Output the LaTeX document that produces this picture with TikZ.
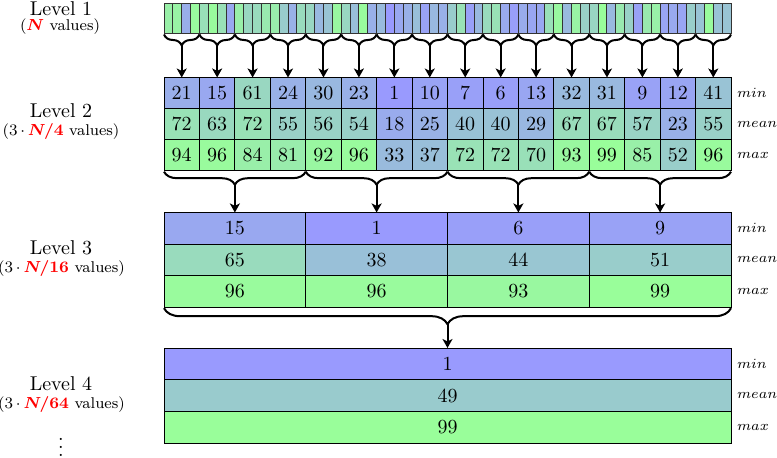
\documentclass[tikz,border=0pt]{standalone}
\usetikzlibrary{decorations.pathreplacing,arrows.meta,calc}
\definecolor{lo}{RGB}{153,153,255}
\definecolor{hi}{RGB}{153,255,153}
\begin{document}
\begin{tikzpicture}[x=0.5pt,y=-0.5pt,
  every node/.style={inner sep=0pt, outer sep=0pt},
  cellA/.style={draw=black!80, line width=0.5pt, anchor=north west, minimum width=4.4297pt, minimum height=15pt},
  cellB/.style={draw=black, line width=0.4pt, anchor=north west, minimum width=17.71875pt, minimum height=15.5pt},
  cellC/.style={draw=black, line width=0.4pt, anchor=north west, minimum width=70.875pt, minimum height=15.75pt},
  cellD/.style={draw=black, line width=0.4pt, anchor=north west, minimum width=283.5pt, minimum height=15.83pt},
  rowlab/.style={anchor=west, font=\fontsize{7.4}{9}\selectfont},
  lvl/.style={font=\normalsize},
  sublvl/.style={font=\fontsize{7.8}{9.5}\selectfont},
  bracedeco/.style={decorate, line width=1pt, decoration={brace, mirror, amplitude=#1, raise=0.6pt}},
  arr/.style={line width=1pt, -{Stealth[length=4.5pt,width=5pt,inset=1.2pt]}}
]
\useasboundingbox (0,0) rectangle (777,458);

% Level 1
\foreach \v [count=\j] in {85,88,21,94, 70,96,71,15, 84,61,65,78, 81,50,24,65,
                           60,30,42,92, 60,37,96,23, 33,1,15,23, 37,10,30,23,
                           50,72,7,31, 65,72,17,6, 19,13,14,70, 93,32,88,55,
                           60,99,31,78, 55,9,79,85, 12,16,12,52, 41,96,41,42}{
  \node[cellA, fill=hi!\v!lo] (a\j) at ({164+(\j-1)*8.859375}, 3.3) {};
}

% Level 2
\foreach \mn/\me/\mx [count=\i] in {21/72/94, 15/63/96, 61/72/84, 24/55/81,
                                   30/56/92, 23/54/96, 1/18/33, 10/25/37,
                                   7/40/72, 6/40/72, 13/29/70, 32/67/93,
                                   31/67/99, 9/57/85, 12/23/52, 41/55/96}{
  \node[cellB, fill=hi!\mn!lo] (bmin\i) at ({164+(\i-1)*35.4375}, 77.5) {\mn};
  \node[cellB, fill=hi!\me!lo] (bmean\i) at ({164+(\i-1)*35.4375}, 108.5) {\me};
  \node[cellB, fill=hi!\mx!lo] (bmax\i) at ({164+(\i-1)*35.4375}, 139.5) {\mx};
}

% Level 3
\foreach \mn/\me/\mx [count=\i] in {15/65/96, 1/38/96, 6/44/93, 9/51/99}{
  \node[cellC, fill=hi!\mn!lo] (cmin\i) at ({164+(\i-1)*141.75}, 212.5) {\mn};
  \node[cellC, fill=hi!\me!lo] (cmean\i) at ({164+(\i-1)*141.75}, 244) {\me};
  \node[cellC, fill=hi!\mx!lo] (cmax\i) at ({164+(\i-1)*141.75}, 275.5) {\mx};
}

% Level 4
\node[cellD, fill=hi!1!lo] (dmin) at (164, 348) {1};
\node[cellD, fill=hi!49!lo] (dmean) at (164, 379.7) {49};
\node[cellD, fill=hi!99!lo] (dmax) at (164, 411.4) {99};

% Braces level 1 -> level 2
\foreach \i in {1,...,16}{
  \pgfmathtruncatemacro\s{4*\i-3}
  \pgfmathtruncatemacro\e{4*\i}
  \draw[bracedeco=5.5pt] (a\s.south west) -- (a\e.south east);
  \coordinate (ta\i) at ($(a\s.south west)!0.5!(a\e.south east)+(0,-6.1pt)$);
  \draw[arr] (ta\i) -- (bmin\i.north);
}

% Braces level 2 -> level 3
\foreach \i in {1,...,4}{
  \pgfmathtruncatemacro\s{4*\i-3}
  \pgfmathtruncatemacro\e{4*\i}
  \draw[bracedeco=6.5pt] (bmax\s.south west) -- (bmax\e.south east);
  \coordinate (tb\i) at ($(bmax\s.south west)!0.5!(bmax\e.south east)+(0,-7.1pt)$);
  \draw[arr] (tb\i) -- (cmin\i.north);
}

% Brace level 3 -> level 4
\draw[bracedeco=8pt] (cmax1.south west) -- (cmax4.south east);
\coordinate (tc) at ($(cmax1.south west)!0.5!(cmax4.south east)+(0,-8.6pt)$);
\draw[arr] (tc) -- (dmin.north);

% Row labels
\node[rowlab] (r2a) at ($(bmin16.east)+(3pt,0)$) {$min$};
\node[rowlab] (r2b) at ($(bmean16.east)+(3pt,0)$) {$mean$};
\node[rowlab] (r2c) at ($(bmax16.east)+(3pt,0)$) {$max$};
\node[rowlab] (r3a) at ($(cmin4.east)+(3pt,0)$) {$min$};
\node[rowlab] (r3b) at ($(cmean4.east)+(3pt,0)$) {$mean$};
\node[rowlab] (r3c) at ($(cmax4.east)+(3pt,0)$) {$max$};
\node[rowlab] (r4a) at ($(dmin.east)+(3pt,0)$) {$min$};
\node[rowlab] (r4b) at ($(dmean.east)+(3pt,0)$) {$mean$};
\node[rowlab] (r4c) at ($(dmax.east)+(3pt,0)$) {$max$};

% Level labels
\node[lvl] (L1) at (61, 9) {Level 1};
\node[sublvl] (L1s) at (60, 27) {(\textcolor{red}{\boldmath$N$} values)};
\node[lvl] (L2) at (61, 111) {Level 2};
\node[sublvl] (L2s) at (61, 132) {($3\,{\cdot}\,$\textcolor{red}{\boldmath$N/4$} values)};
\node[lvl] (L3) at (61, 248) {Level 3};
\node[sublvl] (L3s) at (61.5, 269) {($3\,{\cdot}\,$\textcolor{red}{\boldmath$N/16$} values)};
\node[lvl] (L4) at (61, 384) {Level 4};
\node[sublvl] (L4s) at (61.5, 405) {($3\,{\cdot}\,$\textcolor{red}{\boldmath$N/64$} values)};
\node[anchor=base] (dots) at (61, 457) {$\vdots$};
\end{tikzpicture}
\end{document}
